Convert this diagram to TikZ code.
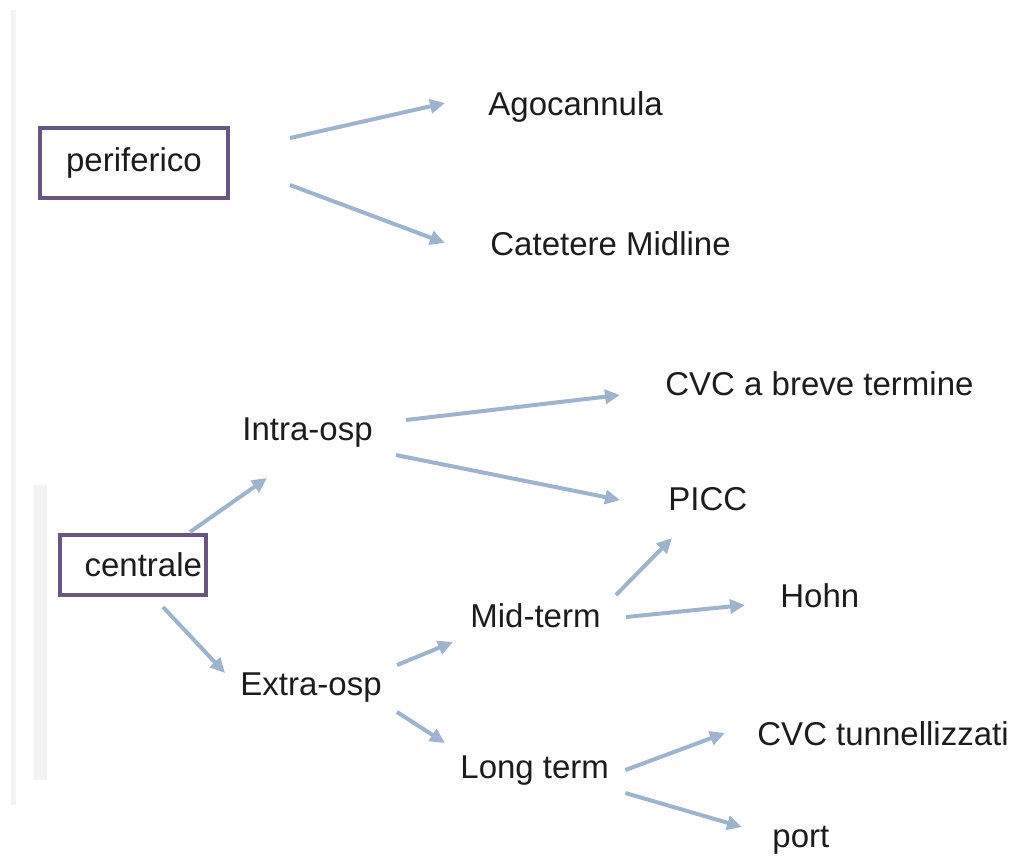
\documentclass[tikz,border=0pt]{standalone}
\usepackage{fontspec}
\setmainfont{Liberation Sans}
\usetikzlibrary{arrows.meta}
\definecolor{boxline}{RGB}{105,86,128}
\definecolor{arrowblue}{RGB}{158,180,206}
\definecolor{inkgray}{RGB}{28,28,28}
\definecolor{scanline}{RGB}{243,243,243}

\begin{document}
\begin{tikzpicture}[x=0.5pt,y=-0.5pt,
                    every node/.style={font=\fontsize{16.5pt}{20pt}\selectfont, text=inkgray},
                    label/.style={inner sep=0pt, anchor=base west},
                    catbox/.style={draw=boxline, line width=2pt, outer sep=0pt},
                    link/.style={-{Triangle[length=7.5pt,width=7pt]}, draw=arrowblue, line width=2pt}]
\useasboundingbox (0,0) rectangle (1010,864);
% faint scan strips on the left
\fill[scanline] (11,10) rectangle (16,805);
\fill[scanline] (34,485) rectangle (47,780);

\node[catbox, minimum width=94pt, minimum height=35pt] (peri) at (134,163) {periferico};
\node[label] (ago) at (488,115) {Agocannula};
\node[label] (cat) at (490,255) {Catetere Midline};

\node[catbox, minimum width=73pt, minimum height=30pt, inner xsep=2pt,
      text width=69pt, align=right] (cent) at (133,565) {centrale};
\node[label] (intra) at (242,440) {Intra-osp};
\node[label] (extra) at (240,695) {Extra-osp};
\node[label] (cvcb) at (665,395) {CVC a breve termine};
\node[label] (picc) at (668,510) {PICC};
\node[label] (mid) at (470,627) {Mid-term};
\node[label] (hohn) at (780,607) {Hohn};
\node[label] (long) at (460,778) {Long term};
\node[label] (tunn) at (757,745) {CVC tunnellizzati};
\node[label] (port) at (772,847) {port};

\draw[link] ([shift={(62,-25)}]peri.east) -- ([shift={(-43,-12)}]ago.base west);
\draw[link] ([shift={(62,22)}]peri.east) -- ([shift={(-45,-12)}]cat.base west);
\draw[link] ([shift={(-16,-3)}]cent.north east) -- ([shift={(25,38)}]intra.base west);
\draw[link] ([shift={(30,12)}]cent.south) -- ([shift={(-15,-22)}]extra.base west);
\draw[link] ([shift={(33,-20)}]intra.base east) -- ([shift={(-45,0)}]cvcb.base west);
\draw[link] ([shift={(23,15)}]intra.base east) -- ([shift={(-48,-10)}]picc.base west);
\draw[link] ([shift={(15,-30)}]extra.base east) -- ([shift={(-17,15)}]mid.base west);
\draw[link] ([shift={(15,17)}]extra.base east) -- ([shift={(-15,-35)}]long.base west);
\draw[link] ([shift={(15,-32)}]mid.base east) -- ([shift={(4,28)}]picc.base west);
\draw[link] ([shift={(25,-10)}]mid.base east) -- ([shift={(-35,-2)}]hohn.base west);
\draw[link] ([shift={(16,-8)}]long.base east) -- ([shift={(-32,-12)}]tunn.base west);
\draw[link] ([shift={(16,15)}]long.base east) -- ([shift={(-30,-20)}]port.base west);

\end{tikzpicture}
\end{document}
